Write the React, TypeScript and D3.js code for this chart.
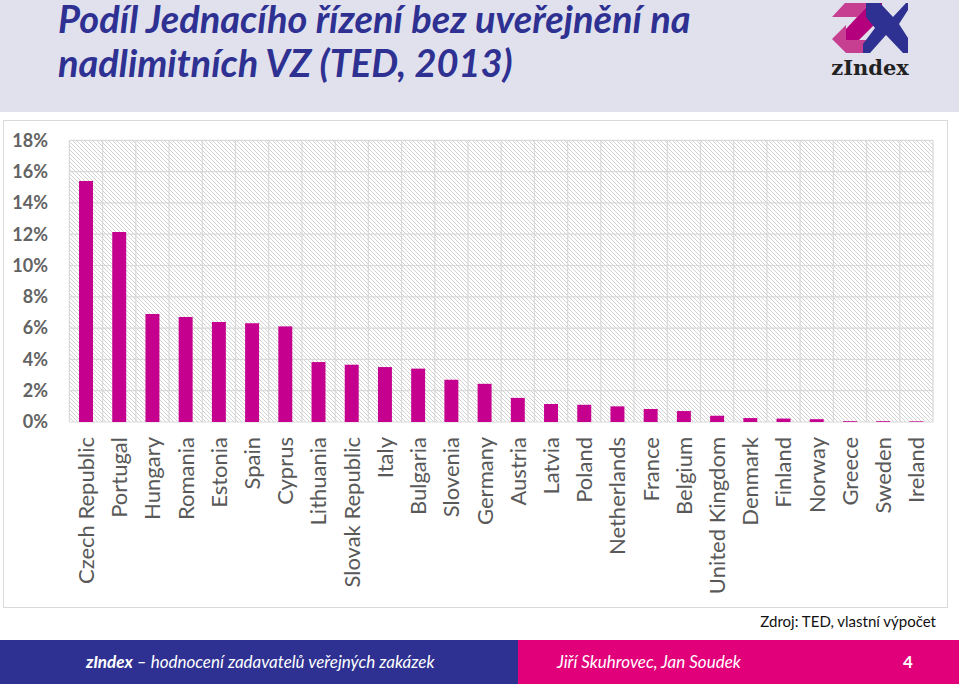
import React from "react";
import * as d3 from "d3";

const countries = [
  "Czech Republic", "Portugal", "Hungary", "Romania", "Estonia", "Spain", "Cyprus",
  "Lithuania", "Slovak Republic", "Italy", "Bulgaria", "Slovenia", "Germany", "Austria",
  "Latvia", "Poland", "Netherlands", "France", "Belgium", "United Kingdom", "Denmark",
  "Finland", "Norway", "Greece", "Sweden", "Ireland",
];
const shares = [
  15.4, 12.14, 6.9, 6.71, 6.39, 6.31, 6.11, 3.83, 3.66, 3.51, 3.41, 2.7, 2.44, 1.54,
  1.15, 1.1, 1.0, 0.83, 0.7, 0.4, 0.25, 0.22, 0.18, 0.05, 0.05, 0.04,
];
const yTicks = [0, 2, 4, 6, 8, 10, 12, 14, 16, 18];
const titleLines = ["Podíl Jednacího řízení bez uveřejnění na", "nadlimitních VZ (TED, 2013)"];

const W = 959, H = 684;
const plot = { left: 69.4, right: 933, top: 140.3, bottom: 422 };
const font = "Lato, 'Open Sans', sans-serif";

export default function App() {
  const x = d3.scaleBand<string>().domain(countries).range([plot.left, plot.right]).paddingInner(0.58).paddingOuter(0.29);
  const xb = d3.scaleBand<string>().domain(countries).range([plot.left, plot.right]);
  const y = d3.scaleLinear().domain([0, 18]).range([plot.bottom, plot.top]);

  return (
    <svg width={W} height={H} style={{ position: "absolute", left: 0, top: 0 }} fontFamily={font}>
      <defs>
        <pattern id="hatch" patternUnits="userSpaceOnUse" width={4} height={4}>
          <rect width={4} height={4} fill="#ffffff" />
          <path d="M-1,-1 L5,5 M-1,3 L1,5 M3,-1 L5,1" stroke="#d2d2d2" strokeWidth={1} />
        </pattern>
      </defs>
      <rect x={0} y={0} width={W} height={H} fill="#ffffff" />
      {/* header band */}
      <rect x={0} y={0} width={W} height={112} fill="#e1e1ee" />
      {titleLines.map((t, i) => (
        <text key={i} x={58} y={33 + i * 44} fontSize={38} fontWeight="bold" fontStyle="italic" fill="#2e3192">{t}</text>
      ))}
      {/* logo */}
      <g>
        <polygon points="845,3 870,3 857,17 832,17" fill="#c63f90" />
        <polygon points="870,3 882,3 882,17 858,41 846,41 846,29" fill="#b4007c" />
        <polygon points="832,39 846,25 846,53" fill="#c63f90" />
        <polygon points="846,40 870,40 870,53 846,53" fill="#c63f90" />
        <polygon points="866,3 880,3 893,17 906,3 908,3 908,10 899,24 908,38 908,53 903,53 886,35 870,53 863,53 863,44 875,28 866,17" fill="#2e3192" />
        <text x={870} y={75} fontSize={21} fontWeight="bold" fontFamily="'DejaVu Serif', serif" fill="#222" textAnchor="middle">zIndex</text>
      </g>
      {/* chart frame */}
      <rect x={3.5} y={120.5} width={944} height={487} fill="#ffffff" stroke="#d9d9d9" strokeWidth={1} />
      <rect x={plot.left} y={plot.top} width={plot.right - plot.left} height={plot.bottom - plot.top} fill="url(#hatch)" />
      {yTicks.map((t) => (
        <line key={"h" + t} x1={plot.left} x2={plot.right} y1={y(t)} y2={y(t)} stroke="#d9d9d9" strokeWidth={1.2} />
      ))}
      {countries.map((c) => (
        <line key={"v" + c} x1={xb(c)!} x2={xb(c)!} y1={plot.top} y2={plot.bottom} stroke="#d9d9d9" strokeWidth={1.2} />
      ))}
      <line x1={plot.right} x2={plot.right} y1={plot.top} y2={plot.bottom} stroke="#d9d9d9" strokeWidth={1.2} />
      {countries.map((c, i) => (
        <rect key={"b" + c} x={x(c)!} y={y(shares[i])} width={x.bandwidth()} height={y(0) - y(shares[i])} fill="#c6008e" />
      ))}
      {yTicks.map((t) => (
        <text key={"yt" + t} x={48} y={y(t)} dy="0.35em" textAnchor="end" fontSize={18} fontWeight="bold" fill="#636363">{t}%</text>
      ))}
      {countries.map((c) => (
        <text key={"xl" + c} transform={`translate(${xb(c)! + xb.bandwidth() / 2},437) rotate(-90)`} dy="0.36em" textAnchor="end" fontSize={22} fill="#595959">{c}</text>
      ))}
      <text x={936} y={627} textAnchor="end" fontSize={15} fill="#111">Zdroj: TED, vlastní výpočet</text>
      {/* footer */}
      <rect x={0} y={640} width={518} height={44} fill="#2e3192" />
      <rect x={518} y={640} width={441} height={44} fill="#e2007a" />
      <text x={86} y={668} fontSize={17} fill="#ffffff">
        <tspan fontWeight="bold" fontStyle="italic">zIndex</tspan>
        <tspan fontStyle="italic"> – hodnocení zadavatelů veřejných zakázek</tspan>
      </text>
      <text x={557} y={668} fontSize={17} fontStyle="italic" fill="#ffffff">Jiří Skuhrovec, Jan Soudek</text>
      <text x={908} y={668} fontSize={17} fontWeight="bold" textAnchor="middle" fill="#ffffff">4</text>
    </svg>
  );
}
